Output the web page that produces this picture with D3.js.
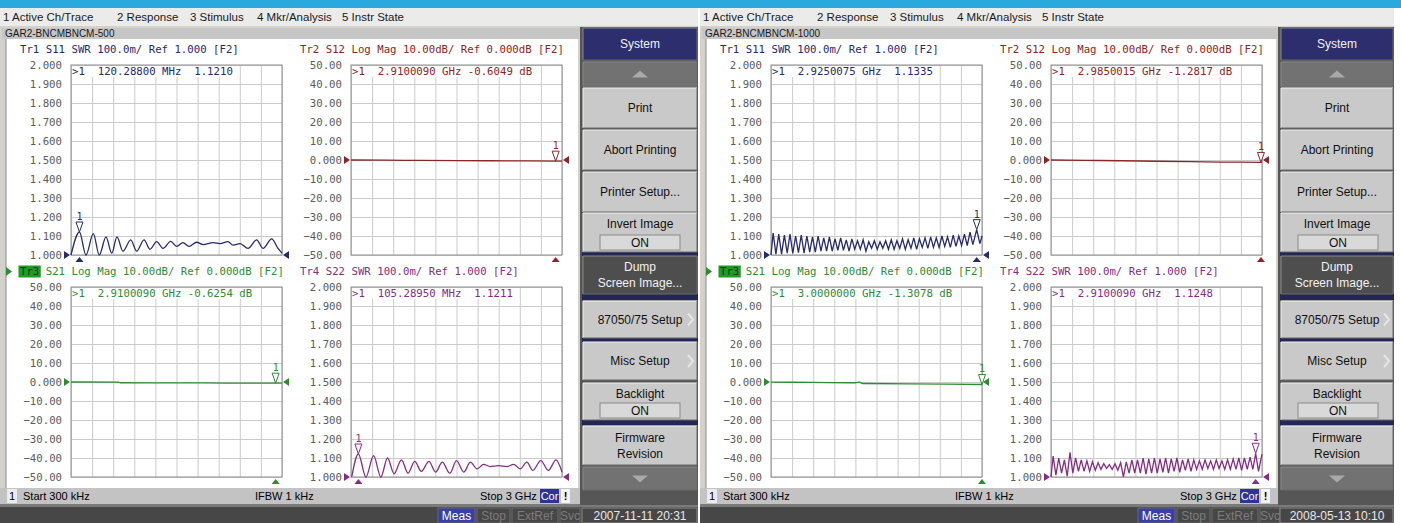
<!DOCTYPE html>
<html>
<head>
<meta charset="utf-8">
<script src="https://cdn.jsdelivr.net/npm/d3@7"></script>
<style>
  body { margin: 0; background: #fff; }
  svg { display: block; }
  .ui { font-family: "Liberation Sans", Arial, sans-serif; }
  .mono { font-family: "DejaVu Sans Mono", "Liberation Mono", monospace; }
</style>
</head>
<body>
<svg id="chart" width="1401" height="523"></svg>
<script>
// ---------- data ----------
const menuLabels = ["1 Active Ch/Trace", "2 Response", "3 Stimulus", "4 Mkr/Analysis", "5 Instr State"];
const screenTitles = ["GAR2-BNCMBNCM-500", "GAR2-BNCMBNCM-1000"];
const screenDates = ["2007-11-11 20:31", "2008-05-13 10:10"];
const softkeyLabels = ["System", "", "Print", "Abort Printing", "Printer Setup...", "Invert Image|ON",
  "Dump|Screen Image...", "87050/75 Setup", "Misc Setup", "Backlight|ON", "Firmware|Revision", ""];
const statusLabels = ["Start 300 kHz", "IFBW 1 kHz", "Stop 3 GHz"];
const bottomLabels = ["Meas", "Stop", "ExtRef", "Svc"];

const traceNames = ["Tr1", "Tr2", "Tr3", "Tr4"];
const traceParams = ["S11", "S12", "S21", "S22"];
const traceFormats = ["SWR", "Log Mag", "Log Mag", "SWR"];
const traceScales = ["100.0m/ Ref 1.000", "10.00dB/ Ref 0.000dB", "10.00dB/ Ref 0.000dB", "100.0m/ Ref 1.000"];
const freqStopGHz = 3;

// marker 1 of each trace (GHz, value)
const markerFreqLeft = [0.1202880, 2.9100090, 2.9100090, 0.1052895];
const markerValLeft = [1.1210, -0.6049, -0.6254, 1.1211];
const markerFreqRight = [2.9250075, 2.9850015, 3.0000000, 2.9100090];
const markerValRight = [1.1335, -1.2817, -1.3078, 1.1248];

// traces: [GHz, value]
const leftS11 = [[0,1.0],[0.12,1.121],[0.213,1.0],[0.317,1.112],[0.402,1.0],[0.498,1.095],[0.579,1.01],
  [0.654,1.095],[0.739,1.02],[0.849,1.08],[0.934,1.02],[1.038,1.08],[1.123,1.03],[1.218,1.07],[1.308,1.035],
  [1.418,1.072],[1.503,1.045],[1.592,1.065],[1.678,1.045],[1.787,1.067],[1.877,1.055],[2.019,1.065],
  [2.118,1.06],[2.232,1.07],[2.303,1.052],[2.403,1.06],[2.517,1.035],[2.640,1.08],[2.730,1.035],
  [2.854,1.085],[2.943,1.035],[3.0,1.01]];
const leftS12 = [[0,0],[0.5,-0.1],[1.0,-0.2],[1.5,-0.3],[2.0,-0.4],[2.5,-0.5],[2.91,-0.6049],[3.0,-0.62]];
const leftS21 = [[0,0],[0.68,-0.05],[0.7,-0.4],[1.5,-0.45],[2.2,-0.55],[2.91,-0.6254],[3.0,-0.64]];
const leftS22 = [[0.01,1.0],[0.105,1.1211],[0.212,1.0],[0.321,1.112],[0.425,1.0],[0.519,1.10],[0.613,1.017],
  [0.717,1.09],[0.811,1.02],[0.906,1.082],[1.0,1.03],[1.108,1.082],[1.203,1.026],[1.298,1.078],[1.405,1.02],
  [1.5,1.086],[1.603,1.026],[1.698,1.078],[1.793,1.043],[1.886,1.066],[1.981,1.055],[2.098,1.06],
  [2.217,1.055],[2.311,1.066],[2.406,1.043],[2.5,1.078],[2.585,1.035],[2.698,1.086],[2.806,1.035],
  [2.915,1.09],[3.0,1.026]];

const rightS11 = [[0,1.0],[0.03,1.115],[0.07,1.005],[0.11,1.11],[0.15,1.005],[0.19,1.105],[0.23,1.01],
  [0.27,1.11],[0.31,1.008],[0.35,1.10],[0.39,1.012],[0.43,1.105],[0.47,1.01],[0.51,1.10],[0.55,1.015],
  [0.59,1.095],[0.63,1.015],[0.67,1.10],[0.71,1.02],[0.75,1.09],[0.79,1.02],[0.83,1.095],[0.87,1.02],
  [0.91,1.085],[0.95,1.025],[0.99,1.09],[1.03,1.025],[1.07,1.08],[1.11,1.02],[1.15,1.085],[1.19,1.03],
  [1.23,1.075],[1.27,1.03],[1.31,1.08],[1.35,1.02],[1.39,1.07],[1.43,1.035],[1.47,1.075],[1.51,1.03],
  [1.55,1.07],[1.59,1.035],[1.63,1.075],[1.67,1.03],[1.71,1.08],[1.75,1.03],[1.79,1.075],[1.83,1.035],
  [1.87,1.085],[1.91,1.03],[1.95,1.08],[1.99,1.035],[2.03,1.09],[2.07,1.03],[2.11,1.085],[2.15,1.04],
  [2.19,1.09],[2.23,1.035],[2.27,1.095],[2.31,1.04],[2.35,1.09],[2.39,1.04],[2.43,1.10],[2.47,1.045],
  [2.51,1.095],[2.55,1.04],[2.59,1.105],[2.63,1.045],[2.67,1.10],[2.71,1.05],[2.75,1.11],[2.79,1.05],
  [2.83,1.12],[2.87,1.055],[2.925,1.1335],[2.97,1.06],[3.0,1.10]];
const rightS12 = [[0,0],[0.5,-0.2],[1.0,-0.4],[1.5,-0.65],[2.0,-0.9],[2.5,-1.1],[2.985,-1.2817],[3.0,-1.29]];
const rightS21 = [[0,-0.1],[0.6,-0.2],[1.2,-0.4],[1.26,-0.1],[1.3,-0.8],[2.0,-1.0],[2.5,-1.15],[3.0,-1.3078]];
const rightS22 = [[0,1.0],[0.03,1.11],[0.07,1.01],[0.11,1.10],[0.15,1.02],[0.19,1.09],[0.23,1.005],[0.27,1.13],
  [0.31,1.02],[0.35,1.10],[0.39,1.03],[0.43,1.09],[0.47,1.03],[0.51,1.085],[0.55,1.03],[0.59,1.08],
  [0.63,1.035],[0.67,1.075],[0.71,1.04],[0.75,1.07],[0.79,1.045],[0.83,1.065],[0.87,1.04],[0.91,1.07],
  [0.95,1.035],[0.99,1.075],[1.03,1.0],[1.07,1.08],[1.11,1.02],[1.15,1.09],[1.19,1.02],[1.23,1.09],
  [1.27,1.02],[1.31,1.10],[1.35,1.015],[1.39,1.095],[1.43,1.02],[1.47,1.10],[1.51,1.02],[1.55,1.095],
  [1.59,1.025],[1.63,1.10],[1.67,1.02],[1.71,1.095],[1.75,1.03],[1.79,1.10],[1.83,1.025],[1.87,1.09],
  [1.91,1.035],[1.95,1.095],[1.99,1.03],[2.03,1.09],[2.07,1.04],[2.11,1.085],[2.15,1.04],[2.19,1.09],
  [2.23,1.045],[2.27,1.085],[2.31,1.04],[2.35,1.09],[2.39,1.045],[2.43,1.085],[2.47,1.04],[2.51,1.09],
  [2.55,1.04],[2.59,1.095],[2.63,1.04],[2.67,1.10],[2.71,1.035],[2.75,1.10],[2.79,1.04],[2.83,1.105],
  [2.87,1.04],[2.91,1.1248],[2.95,1.03],[3.0,1.12]];

// ---------- layout ----------
const W = 1401, H = 523;
const traceColors = ["#262a6e", "#8c2525", "#2e8b34", "#862c86"];
const panelBoxes = [{x: 71, y: 65}, {x: 351, y: 65}, {x: 71, y: 287}, {x: 351, y: 287}];
const boxW = 211, boxH = 190, charW = 6.42;
const menuX = [3, 117, 190, 257, 342];
const keyRows = [[28,60,"title"],[62,87,"up"],[88,128,"key"],[130,170,"key"],[172,212,"key"],[213,252,"toggle"],
  [256,294,"dark"],[301,338,"sub"],[342,380,"sub"],[383,420,"toggle"],[426,465,"key"],[467,490,"down"]];
const navyBars = [[252,256],[294,300],[338,342],[420,425]];

const svg = d3.select("#chart");
svg.append("rect").attr("width", W).attr("height", H).attr("fill", "#fff");

function fmtDb(d) { return Math.abs(d) < 1e-9 ? "0.000" : d3.format(".2f")(d); }
function fmtFreq(f) { return f < 1 ? (f * 1000).toFixed(5) + " MHz" : f.toFixed(7) + " GHz"; }

function drawPanel(g, i, box, data, mFreq, mVal, active) {
  const swr = traceFormats[i] === "SWR";
  const color = traceColors[i];
  const x = d3.scaleLinear().domain([0, freqStopGHz]).range([box.x, box.x + boxW]);
  const y = d3.scaleLinear().domain(swr ? [1, 2] : [-50, 50]).range([box.y + boxH, box.y]);
  const yTicks = swr ? d3.range(0, 11).map(k => 1 + k / 10) : d3.range(-50, 51, 10);

  // grid
  g.append("g").attr("transform", `translate(${box.x},0)`)
    .call(d3.axisLeft(y).tickValues(yTicks).tickSize(-boxW).tickFormat(""))
    .call(a => a.select(".domain").remove())
    .selectAll("line").attr("stroke", "#cbcbcb");
  g.append("g").attr("transform", `translate(0,${box.y + boxH})`)
    .call(d3.axisBottom(x).tickValues(d3.range(0, 11).map(k => k * freqStopGHz / 10)).tickSize(-boxH).tickFormat(""))
    .call(a => a.select(".domain").remove())
    .selectAll("line").attr("stroke", "#cbcbcb");
  g.append("rect").attr("x", box.x).attr("y", box.y).attr("width", boxW).attr("height", boxH)
    .attr("fill", "none").attr("stroke", "#8e8e8e");

  // tick labels
  g.append("g").attr("transform", `translate(${box.x},0)`)
    .call(d3.axisLeft(y).tickValues(yTicks).tickSize(0).tickPadding(9)
      .tickFormat(swr ? d3.format(".3f") : fmtDb))
    .call(a => a.select(".domain").remove())
    .selectAll("text").attr("class", "mono").attr("font-size", 10.7).attr("fill", "#5c5c5c")
    .attr("font-family", null);

  // header
  const hx = box.x - 51, hy = box.y - 12;
  if (active) {
    g.append("path").attr("d", `M${hx - 14},${hy - 8}L${hx - 8},${hy - 3.5}L${hx - 14},${hy + 1}Z`).attr("fill", color);
    g.append("rect").attr("x", hx - 1.5).attr("y", hy - 9.5).attr("width", 3 * charW + 3).attr("height", 12)
      .attr("fill", "#1f9a28");
  }
  const ht = g.append("text").attr("class", "mono").attr("x", hx).attr("y", hy)
    .attr("font-size", 10.7).attr("fill", color).attr("xml:space", "preserve");
  ht.append("tspan").attr("fill", active ? "#0b3a10" : color).text(traceNames[i]);
  ht.append("tspan").text(` ${traceParams[i]} ${traceFormats[i]} ${traceScales[i]} [F2]`);

  // marker readout
  const readout = ">1  " + fmtFreq(mFreq) + (swr ? "  " + mVal.toFixed(4) : " " + mVal.toFixed(4) + " dB");
  g.append("rect").attr("x", box.x + 1).attr("y", box.y + 1).attr("width", readout.length * charW + 2)
    .attr("height", 11).attr("fill", "#fff");
  g.append("text").attr("class", "mono").attr("x", box.x + 1).attr("y", box.y + 10)
    .attr("font-size", 10.7).attr("fill", color).attr("xml:space", "preserve").text(readout);

  // trace
  const line = d3.line().x(d => x(d[0])).y(d => y(d[1]))
    .curve(data.length > 40 ? d3.curveLinear : d3.curveMonotoneX);
  g.append("path").datum(data).attr("d", line).attr("fill", "none")
    .attr("stroke", color).attr("stroke-width", 1.3);

  // reference pointers
  const ry = y(swr ? 1 : 0);
  g.append("path").attr("d", `M${box.x - 7},${ry - 4}L${box.x - 1},${ry}L${box.x - 7},${ry + 4}Z`).attr("fill", color);
  g.append("path").attr("d", `M${box.x + boxW + 7},${ry - 4}L${box.x + boxW + 1},${ry}L${box.x + boxW + 7},${ry + 4}Z`).attr("fill", color);

  // marker glyph
  const mx = x(mFreq), my = y(mVal);
  g.append("path").attr("d", `M${mx - 3.5},${my - 10}L${mx + 3.5},${my - 10}L${mx},${my}Z`)
    .attr("fill", "#fff").attr("stroke", color).attr("stroke-width", 1);
  g.append("text").attr("class", "mono").attr("x", mx).attr("y", my - 12).attr("text-anchor", "middle")
    .attr("font-size", 10).attr("fill", color).text("1");
  const by = box.y + boxH + 1;
  g.append("path").attr("d", `M${mx - 4},${by + 6}L${mx + 4},${by + 6}L${mx},${by + 1}Z`).attr("fill", color);
}

function drawScreen(ox, idx, keyX, keyW, traces, mFreq, mVal) {
  const g = svg.append("g").attr("transform", `translate(${ox},0)`);
  // frame backgrounds
  g.append("rect").attr("x", 0).attr("y", 8).attr("width", keyX + keyW).attr("height", H - 8).attr("fill", "#d4d1cb");
  g.append("rect").attr("x", 0).attr("y", 8).attr("width", keyX + keyW).attr("height", 18).attr("fill", "#ebebea");
  menuLabels.forEach((m, k) => g.append("text").attr("class", "ui").attr("x", menuX[k]).attr("y", 21)
    .attr("font-size", 11.5).attr("fill", "#1a1a1a").text(m));
  g.append("rect").attr("x", 2).attr("y", 28).attr("width", keyX - 3).attr("height", 11).attr("fill", "#c6c6c6");
  g.append("text").attr("class", "ui").attr("x", 5).attr("y", 37).attr("font-size", 10)
    .attr("fill", "#1a1a1a").text(screenTitles[idx]);
  g.append("rect").attr("x", 6).attr("y", 39).attr("width", keyX - 4 - 6).attr("height", 449).attr("fill", "#fff");
  g.append("line").attr("x1", 6).attr("x2", 6).attr("y1", 39).attr("y2", 488).attr("stroke", "#8a8a8a");

  traces.forEach((t, i) => drawPanel(g, i, panelBoxes[i], t, mFreq[i], mVal[i], i === 2));

  // status bar
  g.append("rect").attr("x", 0).attr("y", 488).attr("width", keyX - 2).attr("height", 16).attr("fill", "#c3c3c3");
  g.append("rect").attr("x", 7).attr("y", 489).attr("width", 10).attr("height", 14).attr("fill", "#ececec");
  g.append("text").attr("class", "ui").attr("x", 9).attr("y", 500).attr("font-size", 11).text("1");
  g.append("text").attr("class", "ui").attr("x", 23).attr("y", 500).attr("font-size", 11).text(statusLabels[0]);
  g.append("text").attr("class", "ui").attr("x", 255).attr("y", 500).attr("font-size", 11).text(statusLabels[1]);
  g.append("text").attr("class", "ui").attr("x", 480).attr("y", 500).attr("font-size", 11).text(statusLabels[2]);
  g.append("rect").attr("x", 540).attr("y", 489).attr("width", 19).attr("height", 14).attr("fill", "#2e3497");
  g.append("text").attr("class", "ui").attr("x", 549.5).attr("y", 500).attr("text-anchor", "middle")
    .attr("font-size", 11).attr("fill", "#fff").text("Cor");
  g.append("rect").attr("x", 561).attr("y", 489).attr("width", 9).attr("height", 14).attr("fill", "#f4f4f4");
  g.append("text").attr("class", "ui").attr("x", 565.5).attr("y", 500).attr("text-anchor", "middle")
    .attr("font-size", 11).attr("font-weight", "bold").text("!");

  // bottom bar
  g.append("rect").attr("x", 0).attr("y", 504).attr("width", keyX + keyW).attr("height", 3).attr("fill", "#7a7a7a");
  g.append("rect").attr("x", 0).attr("y", 507).attr("width", keyX + keyW).attr("height", 16).attr("fill", "#474747");
  const fields = [[438, 37], [477, 33], [512, 46], [560, 20]];
  bottomLabels.forEach((b, k) => {
    const [fx, fw] = fields[k];
    g.append("rect").attr("x", fx).attr("y", 508).attr("width", fw).attr("height", 15)
      .attr("fill", k === 0 ? "#3a3fa6" : "#474747").attr("stroke", "#6a6a6a");
    g.append("text").attr("class", "ui").attr("x", fx + fw / 2).attr("y", 520).attr("text-anchor", "middle")
      .attr("font-size", 12).attr("fill", k === 0 ? "#fff" : "#7c7c7c").text(b);
  });
  g.append("rect").attr("x", keyX).attr("y", 508).attr("width", keyW - 1).attr("height", 15)
    .attr("fill", "#474747").attr("stroke", "#8a8a8a");
  g.append("text").attr("class", "ui").attr("x", keyX + keyW / 2).attr("y", 520).attr("text-anchor", "middle")
    .attr("font-size", 12).attr("fill", "#e8e8e8").text(screenDates[idx]);

  // softkeys
  g.append("rect").attr("x", keyX - 2).attr("y", 27).attr("width", keyW + 2).attr("height", 478).attr("fill", "#565656");
  navyBars.forEach(([a, b]) => g.append("rect").attr("x", keyX).attr("y", a).attr("width", keyW)
    .attr("height", b - a).attr("fill", "#232657"));
  keyRows.forEach(([y0, y1, kind], k) => {
    const kg = g.append("g");
    const cx = keyX + keyW / 2, h = y1 - y0;
    const fill = kind === "title" ? "#2c2e6d" : kind === "dark" ? "#4e4e4e"
      : (kind === "up" || kind === "down") ? "#727272" : "#c9c9c9";
    kg.append("rect").attr("x", keyX + 1).attr("y", y0).attr("width", keyW - 2).attr("height", h).attr("fill", fill);
    kg.append("path").attr("d", `M${keyX + 1},${y1}V${y0}H${keyX + keyW - 1}`).attr("fill", "none")
      .attr("stroke", kind === "key" || kind === "toggle" || kind === "sub" ? "#f2f2f2" : "#8a8a8a");
    kg.append("path").attr("d", `M${keyX + keyW - 1},${y0}V${y1}H${keyX + 1}`).attr("fill", "none")
      .attr("stroke", "#6a6a6a");
    if (kind === "up" || kind === "down") {
      const ty = (y0 + y1) / 2;
      const d = kind === "up" ? `M${cx - 8},${ty + 3}L${cx + 8},${ty + 3}L${cx},${ty - 4}Z`
        : `M${cx - 8},${ty - 3}L${cx + 8},${ty - 3}L${cx},${ty + 4}Z`;
      kg.append("path").attr("d", d).attr("fill", "#a9a9a9");
      return;
    }
    const lines = softkeyLabels[k].split("|");
    const light = kind === "title" || kind === "dark";
    if (kind === "toggle") {
      kg.append("text").attr("class", "ui").attr("x", cx).attr("y", y0 + 15).attr("text-anchor", "middle")
        .attr("font-size", 12).attr("fill", "#111").text(lines[0]);
      kg.append("rect").attr("x", keyX + 18).attr("y", y1 - 17).attr("width", 80).attr("height", 15)
        .attr("fill", "#d9d9d9").attr("stroke", "#8a8a8a");
      kg.append("text").attr("class", "ui").attr("x", keyX + 58).attr("y", y1 - 5).attr("text-anchor", "middle")
        .attr("font-size", 12).attr("fill", "#111").text(lines[1]);
      return;
    }
    const mid = (y0 + y1) / 2;
    lines.forEach((t, j) => kg.append("text").attr("class", "ui").attr("x", cx)
      .attr("y", mid + 4 + (j - (lines.length - 1) / 2) * 16).attr("text-anchor", "middle")
      .attr("font-size", 12).attr("fill", light ? "#f2f2f2" : "#111").text(t));
    if (kind === "sub") {
      kg.append("path").attr("d", `M${keyX + keyW - 10},${mid - 6}L${keyX + keyW - 5},${mid}L${keyX + keyW - 10},${mid + 6}`)
        .attr("fill", "none").attr("stroke", "#e6e6e6").attr("stroke-width", 2);
    }
  });
}

// top strip
svg.append("rect").attr("width", W).attr("height", 8).attr("fill", "#2aa9df");

drawScreen(0, 0, 582, 116, [leftS11, leftS12, leftS21, leftS22], markerFreqLeft, markerValLeft);
drawScreen(700, 1, 580, 114, [rightS11, rightS12, rightS21, rightS22], markerFreqRight, markerValRight);
</script>
</body>
</html>
